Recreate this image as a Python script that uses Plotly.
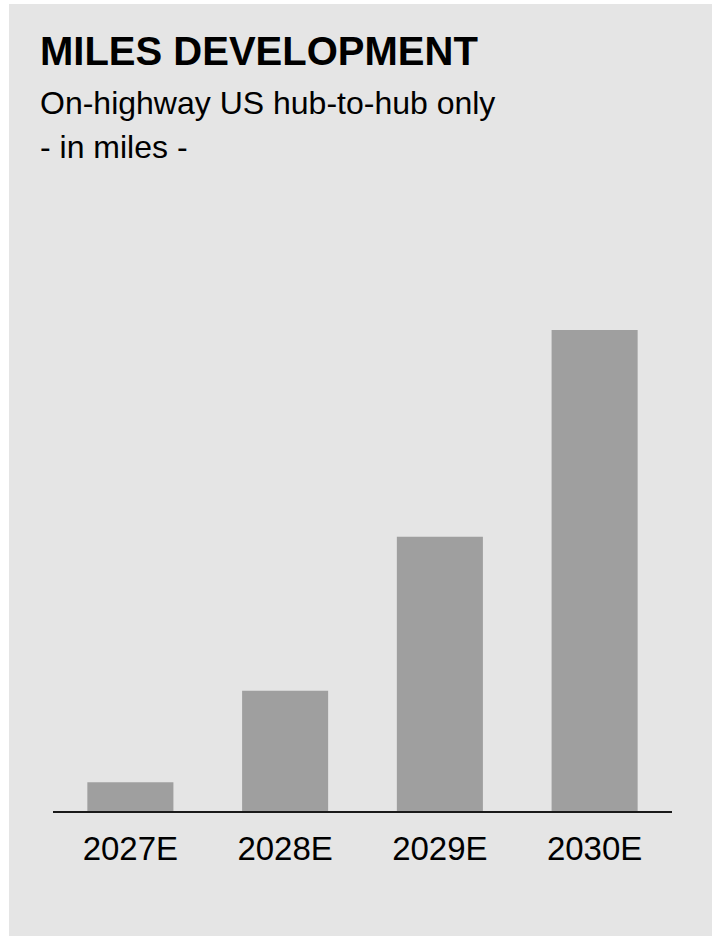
import plotly.graph_objects as go

# Miles development, on-highway US hub-to-hub only
years = ["2027E", "2028E", "2029E", "2030E"]
miles = [0.3, 1.25, 2.85, 5.0]

W, H = 712, 936
L, R, T, B = 53, 40, 200, 125
PLOT_W = W - L - R
PLOT_H = H - T - B
Y_MAX = 6.35

FONT = "Liberation Sans, Arial, Helvetica, sans-serif"
PANEL = "#e5e5e5"
BAR = "#9f9f9f"


def px_x(px):
    return (px - L) / PLOT_W


def px_y(py):
    return (H - B - py) / PLOT_H


fig = go.Figure(
    go.Bar(
        x=years,
        y=miles,
        marker=dict(color=BAR, line=dict(width=0)),
        hoverinfo="skip",
    )
)

# light grey card behind everything
fig.add_shape(
    type="rect", xref="paper", yref="paper",
    x0=px_x(9), x1=px_x(W + 20), y0=px_y(H + 20), y1=px_y(4),
    fillcolor=PANEL, line=dict(width=0), layer="below",
)

texts = [
    ("<b>MILES DEVELOPMENT</b>", 40, 27),
    ("On-highway US hub-to-hub only", 32, 83),
    ("- in miles -", 32, 127),
]
for txt, size, top in texts:
    fig.add_annotation(
        text=txt, xref="paper", yref="paper",
        x=px_x(38), y=px_y(top), xanchor="left", yanchor="top",
        showarrow=False, font=dict(family=FONT, size=size, color="#000"),
    )

fig.update_layout(
    width=W, height=H,
    margin=dict(l=L, r=R, t=T, b=B),
    paper_bgcolor="white",
    plot_bgcolor=PANEL,
    bargap=0.444,
    showlegend=False,
    font=dict(family=FONT, color="#000"),
)
fig.update_xaxes(
    showline=True, linecolor="#1a1a1a", linewidth=1.5,
    showgrid=False, ticks="", range=[-0.5, 3.5],
    tickfont=dict(family=FONT, size=33, color="#000"),
    ticklabelstandoff=8,
)
fig.update_yaxes(
    visible=False, range=[0, Y_MAX], showgrid=False, zeroline=False,
)

fig.write_html("out.html")
